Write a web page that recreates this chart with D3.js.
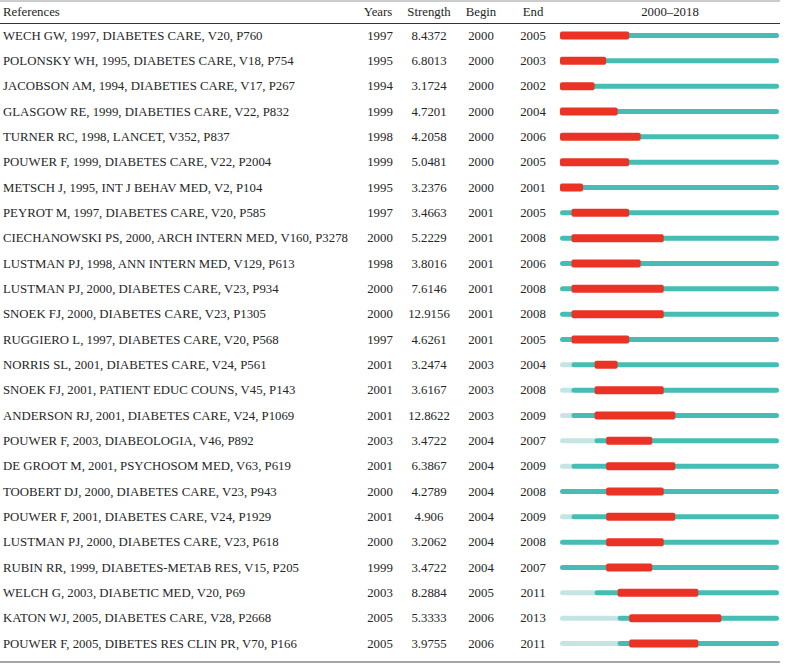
<!DOCTYPE html>
<html>
<head>
<meta charset="utf-8">
<script src="https://cdn.jsdelivr.net/npm/d3@7/dist/d3.min.js"></script>
<style>
  html, body { margin: 0; padding: 0; background: #fff; }
  svg text { font-family: "Liberation Serif", "DejaVu Serif", serif; fill: #262626; }
</style>
</head>
<body>
<svg id="chart" width="789" height="665"></svg>
<script>
const references = [
  "WECH GW, 1997, DIABETES CARE, V20, P760",
  "POLONSKY WH, 1995, DIABETES CARE, V18, P754",
  "JACOBSON AM, 1994, DIABETIES CARE, V17, P267",
  "GLASGOW RE, 1999, DIABETIES CARE, V22, P832",
  "TURNER RC, 1998, LANCET, V352, P837",
  "POUWER F, 1999, DIABETES CARE, V22, P2004",
  "METSCH J, 1995, INT J BEHAV MED, V2, P104",
  "PEYROT M, 1997, DIABETES CARE, V20, P585",
  "CIECHANOWSKI PS, 2000, ARCH INTERN MED, V160, P3278",
  "LUSTMAN PJ, 1998, ANN INTERN MED, V129, P613",
  "LUSTMAN PJ, 2000, DIABETES CARE, V23, P934",
  "SNOEK FJ, 2000, DIABETES CARE, V23, P1305",
  "RUGGIERO L, 1997, DIABETES CARE, V20, P568",
  "NORRIS SL, 2001, DIABETES CARE, V24, P561",
  "SNOEK FJ, 2001, PATIENT EDUC COUNS, V45, P143",
  "ANDERSON RJ, 2001, DIABETES CARE, V24, P1069",
  "POUWER F, 2003, DIABEOLOGIA, V46, P892",
  "DE GROOT M, 2001, PSYCHOSOM MED, V63, P619",
  "TOOBERT DJ, 2000, DIABETES CARE, V23, P943",
  "POUWER F, 2001, DIABETES CARE, V24, P1929",
  "LUSTMAN PJ, 2000, DIABETES CARE, V23, P618",
  "RUBIN RR, 1999, DIABETES-METAB RES, V15, P205",
  "WELCH G, 2003, DIABETIC MED, V20, P69",
  "KATON WJ, 2005, DIABETES CARE, V28, P2668",
  "POUWER F, 2005, DIBETES RES CLIN PR, V70, P166"
];
const years = [1997,1995,1994,1999,1998,1999,1995,1997,2000,1998,2000,2000,1997,2001,2001,2001,2003,2001,2000,2001,2000,1999,2003,2005,2005];
const strengths = ["8.4372","6.8013","3.1724","4.7201","4.2058","5.0481","3.2376","3.4663","5.2229","3.8016","7.6146","12.9156","4.6261","3.2474","3.6167","12.8622","3.4722","6.3867","4.2789","4.906","3.2062","3.4722","8.2884","5.3333","3.9755"];
const begins = [2000,2000,2000,2000,2000,2000,2000,2001,2001,2001,2001,2001,2001,2003,2003,2003,2004,2004,2004,2004,2004,2004,2005,2006,2006];
const ends = [2005,2003,2002,2004,2006,2005,2001,2005,2008,2006,2008,2008,2005,2004,2008,2009,2007,2009,2008,2009,2008,2007,2011,2013,2011];
const headers = ["References","Years","Strength","Begin","End","2000\u20132018"];
const spanStart = 2000, spanEnd = 2018;

const svg = d3.select("#chart");
const rows = d3.range(references.length);
const y = d3.scaleLinear().domain([0, references.length - 1]).range([35.5, 643.5]);
const x = d3.scaleLinear().domain([spanStart, spanEnd + 1]).range([560, 779]);

const fs = 12.8;
// lines
svg.append("line").attr("x1",0).attr("x2",780).attr("y1",1).attr("y2",1)
  .attr("stroke","#bbb").attr("stroke-width",1.5);
svg.append("line").attr("x1",0).attr("x2",780).attr("y1",23.5).attr("y2",23.5)
  .attr("stroke","#333").attr("stroke-width",1);
svg.append("line").attr("x1",0).attr("x2",780).attr("y1",662).attr("y2",662)
  .attr("stroke","#888").attr("stroke-width",1.5);

// headers
const hx = [3, 378, 429, 481, 533, 670];
const ha = ["start","middle","middle","middle","middle","middle"];
svg.selectAll("text.h").data(headers).join("text").attr("class","h")
  .attr("x",(d,i)=>hx[i]).attr("y",16).attr("text-anchor",(d,i)=>ha[i])
  .attr("font-size",fs).text(d=>d);

const g = svg.selectAll("g.row").data(rows).join("g").attr("class","row")
  .attr("transform", i => `translate(0,${y(i)})`);
g.append("text").attr("x",3).attr("y",4.3).attr("font-size",fs).text(i=>references[i]);
g.append("text").attr("x",380).attr("y",4.3).attr("text-anchor","middle").attr("font-size",fs).text(i=>years[i]);
g.append("text").attr("x",429).attr("y",4.3).attr("text-anchor","middle").attr("font-size",fs).text(i=>strengths[i]);
g.append("text").attr("x",481).attr("y",4.3).attr("text-anchor","middle").attr("font-size",fs).text(i=>begins[i]);
g.append("text").attr("x",533).attr("y",4.3).attr("text-anchor","middle").attr("font-size",fs).text(i=>ends[i]);

// light segment (before publication)
g.filter(i => years[i] > spanStart).append("rect")
  .attr("x", x(spanStart)).attr("y",-2.5).attr("height",5).attr("rx",2.5)
  .attr("width", i => x(years[i]) - x(spanStart) + 3)
  .attr("fill","#c3e6e4");
// teal segment
g.append("rect")
  .attr("x", i => x(Math.max(years[i], spanStart))).attr("y",-2.5).attr("height",5).attr("rx",2.5)
  .attr("width", i => x(spanEnd + 1) - x(Math.max(years[i], spanStart)))
  .attr("fill","#45bdb5");
// burst
g.append("rect")
  .attr("x", i => x(begins[i])).attr("y",-4).attr("height",8).attr("rx",2)
  .attr("width", i => x(ends[i] + 1) - x(begins[i]))
  .attr("fill","#ea3325");
</script>
</body>
</html>
